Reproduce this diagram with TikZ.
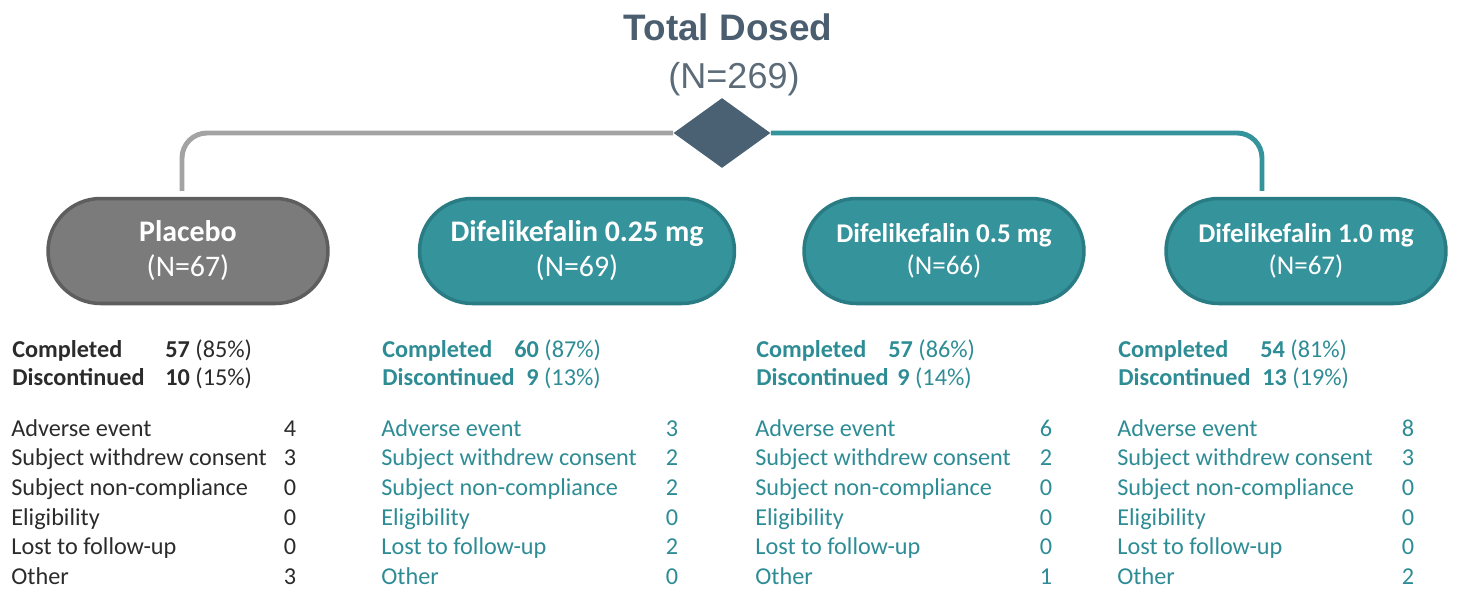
\documentclass[tikz,border=0pt]{standalone}
\usepackage{fontspec}
\setmainfont{Carlito}
\newfontfamily\titlefont{Liberation Sans}
\usepackage{tikz}
\usetikzlibrary{shapes.geometric}
\definecolor{slate}{HTML}{4A6173}
\definecolor{slatetext}{HTML}{4B5E6F}
\definecolor{slatelight}{HTML}{5C6B78}
\definecolor{armteal}{HTML}{35939C}
\definecolor{armtealdark}{HTML}{2A7C84}
\definecolor{tealtext}{HTML}{2E8C95}
\definecolor{armgray}{HTML}{7B7B7B}
\definecolor{armgraydark}{HTML}{5E5E5E}
\definecolor{linegray}{HTML}{A3A3A3}
\definecolor{darktext}{HTML}{2B2B2B}

\tikzset{
  arm/.style={rectangle, rounded corners=1.05cm, minimum height=2.1cm, line width=2pt,
    text=white, align=center, inner sep=0pt},
  placebobox/.style={arm, fill=armgray, draw=armgraydark},
  drugbox/.style={arm, fill=armteal, draw=armtealdark},
  branch/.style={line width=2.8pt, rounded corners=0.5cm},
  item/.style={anchor=base west, inner sep=0pt, font=\fontsize{13.8}{16}\selectfont},
  tally/.style={anchor=base, inner sep=0pt, font=\fontsize{13.8}{16}\selectfont},
}

\begin{document}
\begin{tikzpicture}[x=0.02cm, y=-0.02cm]
\useasboundingbox (0,0) rectangle (1458,592);

\node at (728,40) [anchor=base, text=slatetext, font=\titlefont\bfseries\fontsize{21}{24}\selectfont] (title) {Total Dosed};
\node at (734,88) [anchor=base, text=slatelight, font=\titlefont\fontsize{20.5}{24}\selectfont] (total) {(N=269)};

% arms
\node at (188,251) [placebobox, minimum width=5.6cm, font=\fontsize{17}{20}\selectfont] (plc) {\textbf{Placebo}\\(N=67)};
\node at (577,251) [drugbox, minimum width=6.3cm, font=\fontsize{17}{20}\selectfont] (d025) {\textbf{Difelikefalin 0.25 mg}\\(N=69)};
\node at (944,251) [drugbox, minimum width=5.6cm, font=\fontsize{15.4}{18}\selectfont] (d05) {\textbf{Difelikefalin 0.5 mg}\\(N=66)};
\node at (1306,251) [drugbox, minimum width=5.6cm, font=\fontsize{15.4}{18}\selectfont] (d10) {\textbf{Difelikefalin 1.0 mg}\\(N=67)};

\node at (722,133) [shape=diamond, minimum width=1.94cm, minimum height=1.4cm, inner sep=0pt] (split) {};
\draw [branch, linegray] (split.west) -| ([xshift=-0.12cm, yshift=0.12cm]plc.north);
\draw [branch, armteal] (split.east) -| ([xshift=-0.88cm, yshift=0.12cm]d10.north);
\node at (722,133) [shape=diamond, fill=slate, minimum width=1.94cm, minimum height=1.4cm, inner sep=0pt] (splitfill) {};

% completed / discontinued
\node at (12,357) [item, text=darktext] (plc-c) {\textbf{Completed}};
\node at (165,357) [item, text=darktext] (plc-cn) {\textbf{57} (85\%)};
\node at (12,385) [item, text=darktext] (plc-d) {\textbf{Discontinued}};
\node at (165,385) [item, text=darktext] (plc-dn) {\textbf{10} (15\%)};

\node at (382,357) [item, text=tealtext] (d025-c) {\textbf{Completed}};
\node at (514,357) [item, text=tealtext] (d025-cn) {\textbf{60} (87\%)};
\node at (382,385) [item, text=tealtext] (d025-d) {\textbf{Discontinued}};
\node at (526,385) [item, text=tealtext] (d025-dn) {\textbf{9} (13\%)};

\node at (756,357) [item, text=tealtext] (d05-c) {\textbf{Completed}};
\node at (888,357) [item, text=tealtext] (d05-cn) {\textbf{57} (86\%)};
\node at (756,385) [item, text=tealtext] (d05-d) {\textbf{Discontinued}};
\node at (897,385) [item, text=tealtext] (d05-dn) {\textbf{9} (14\%)};

\node at (1118,357) [item, text=tealtext] (d10-c) {\textbf{Completed}};
\node at (1260,357) [item, text=tealtext] (d10-cn) {\textbf{54} (81\%)};
\node at (1118,385) [item, text=tealtext] (d10-d) {\textbf{Discontinued}};
\node at (1262,385) [item, text=tealtext] (d10-dn) {\textbf{13} (19\%)};

% reasons for discontinuation
\foreach \arm/\x/\nx/\clr/\vals in {plc/11/290/darktext/{4,3,0,0,0,3}, d025/381/672/tealtext/{3,2,2,0,2,0},
    d05/755/1046/tealtext/{6,2,0,0,0,1}, d10/1117/1408/tealtext/{8,3,0,0,0,2}} {
  \foreach \why [count=\i] in {Adverse event, Subject withdrew consent, Subject non-compliance,
      Eligibility, Lost to follow-up, Other}
    \node at (\x,406.3+29.7*\i) [item, text=\clr] (\arm-why\i) {\why};
  \foreach \n [count=\i] in \vals
    \node at (\nx,406.3+29.7*\i) [tally, text=\clr] (\arm-n\i) {\n};
}
\end{tikzpicture}
\end{document}
